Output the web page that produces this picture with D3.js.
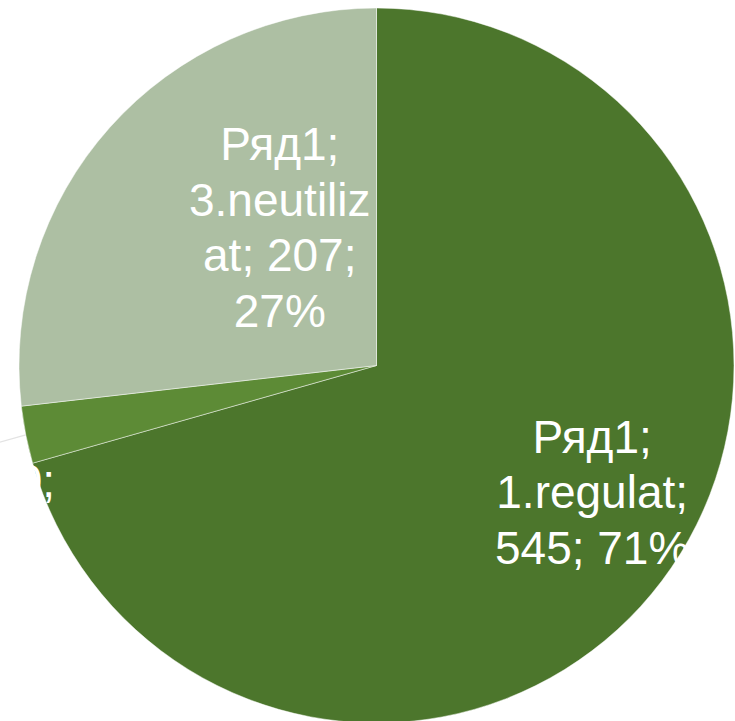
<!DOCTYPE html>
<html>
<head>
<meta charset="utf-8">
<script src="https://cdn.jsdelivr.net/npm/d3@7"></script>
<style>
    html, body { margin: 0; padding: 0; background: #fff; }
    svg { display: block; }
</style>
</head>
<body>
<svg width="735" height="721"></svg>
<script>
var seriesName = "Ряд1";
var categories = ["1.regulat", "2.ocazional", "3.neutilizat"];
var values = [545, 20, 207];
var colors = ["#4c762c", "#5d8b36", "#adbfa3"];

var width = 735, height = 721;
var cx = 376.5, cy = 365.5, radius = 357.5;
var fontSize = 46, lineHeight = 55.5;

// label placement: centroid at 0.7 r, then nudged (like Excel best fit)
var labelNudge = [[16, -24], [-237, 67], [90, 28.5]];
var wrapWidth = [200, 340, 200];

var svg = d3.select("svg");
var total = d3.sum(values);
var pctFormat = d3.format(".0%");

var pie = d3.pie().sort(null).value(function(d) { return d; });
var arcs = pie(values);
var arc = d3.arc().innerRadius(0).outerRadius(radius);
var labelArc = d3.arc().innerRadius(radius * 0.7).outerRadius(radius * 0.7);

var g = svg.append("g")
    .attr("transform", "translate(" + cx + ", " + cy + ")");

// Slices
g.selectAll("path.slice")
    .data(arcs)
    .enter()
        .append("path")
        .attr("class", "slice")
        .attr("d", arc)
        .attr("fill", function(d, i) { return colors[i]; })
        .attr("stroke", "rgba(255,255,255,0.6)")
        .attr("stroke-width", 0.8);

// Leader line for the small slice
var small = arcs[1];
var midA = (small.startAngle + small.endAngle) / 2;
var p0 = [radius * Math.sin(midA), -radius * Math.cos(midA)];
g.append("line")
    .attr("x1", p0[0])
    .attr("y1", p0[1])
    .attr("x2", p0[0] - 60)
    .attr("y2", p0[1] + 17)
    .attr("stroke", "#e3e3e3")
    .attr("stroke-width", 1.2);

// Labels
function wrapText(text, maxW, measure) {
    var words = text.split(" ");
    var lines = [];
    var cur = "";
    words.forEach(function(w) {
        var tryLine = cur ? cur + " " + w : w;
        if (measure(tryLine) <= maxW) {
            cur = tryLine;
            return;
        }
        if (cur) lines.push(cur);
        cur = w;
        while (measure(cur) > maxW) {
            var k = cur.length - 1;
            while (k > 1 && measure(cur.slice(0, k)) > maxW) k--;
            lines.push(cur.slice(0, k));
            cur = cur.slice(k);
        }
    });
    if (cur) lines.push(cur);
    return lines;
}

var probe = svg.append("text")
    .attr("font-family", "'Liberation Sans', Arial, sans-serif")
    .attr("font-size", fontSize)
    .attr("visibility", "hidden");
function measure(s) {
    probe.text(s);
    return probe.node().getComputedTextLength();
}

arcs.forEach(function(d, i) {
    var label = seriesName + "; " + categories[i] + "; " + values[i] + "; " + pctFormat(values[i] / total);
    var lines = wrapText(label, wrapWidth[i], measure);
    var c = labelArc.centroid(d);
    var lx = c[0] + labelNudge[i][0];
    var ly = c[1] + labelNudge[i][1];
    var t = g.append("text")
        .attr("font-family", "'Liberation Sans', Arial, sans-serif")
        .attr("font-size", fontSize)
        .attr("fill", "#ffffff")
        .attr("text-anchor", "middle");
    lines.forEach(function(line, j) {
        t.append("tspan")
            .attr("x", lx)
            .attr("y", ly + (j - (lines.length - 1) / 2) * lineHeight + fontSize * 0.35)
            .text(line);
    });
});
probe.remove();
</script>
</body>
</html>
